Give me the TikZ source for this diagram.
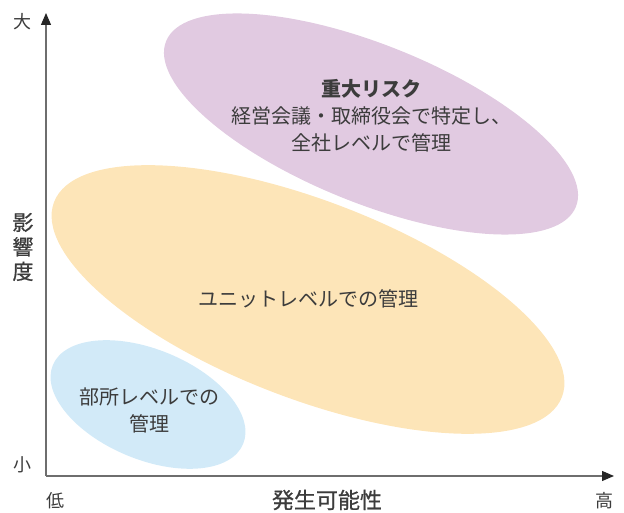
\documentclass[tikz,border=0pt]{standalone}
\usepackage{fontspec}
\setmainfont{Noto Sans CJK JP}
\newfontfamily\jpmed[FakeBold=0.7]{Noto Sans CJK JP}
\usetikzlibrary{arrows.meta}
\definecolor{pur}{RGB}{225,202,225}
\definecolor{ora}{RGB}{253,229,184}
\definecolor{blu}{RGB}{210,234,248}
\definecolor{txt}{RGB}{60,60,60}
\definecolor{axc}{RGB}{110,110,110}
\tikzset{
  axisline/.style={draw=axc, line width=1.1pt, -{Triangle[length=12pt,width=10pt,color=black!85]}},
  lbl/.style={text=txt, align=center, inner sep=0pt, font=\fontsize{20}{27}\selectfont},
  axlbl/.style={text=txt, inner sep=0pt, font=\fontsize{18}{20}\selectfont},
}
\begin{document}
\begin{tikzpicture}[x=1pt,y=1pt]
\useasboundingbox (0,0) rectangle (624,513);
% ellipses
\fill[pur, rotate around={-22:(371,389)}] (371,389) ellipse (221 and 79);
\fill[ora, rotate around={-21:(308,213.5)}] (308,213.5) ellipse (272 and 99);
\fill[blu, rotate around={-22.5:(148,108.5)}] (148,108.5) ellipse (103 and 55);
% axes
\coordinate (o) at (46,37);
\coordinate (ytop) at (46,500);
\coordinate (xend) at (614,37);
\draw[axisline] (o) -- (ytop);
\draw[axisline] (o) -- (xend);
% texts
\node[lbl] (big) at (371,397) {{\bfseries 重大リスク}\\経営会議・取締役会で特定し、\\全社レベルで管理};
\node[lbl] (unit) at (308,214) {ユニットレベルでの管理};
\node[lbl] (dept) at (149,103) {部所レベルでの\\管理};
\node[axlbl] (yhi) at (22,491) {大};
\node[axlbl] (ylo) at (22,48) {小};
\node[text=txt, inner sep=0pt, align=center, font=\fontsize{21}{24.5}\selectfont\jpmed] (ylab) at (23,266) {影\\響\\度};
\node[axlbl] (xlo) at (55,12) {低};
\node[axlbl] (xhi) at (604,12) {高};
\node[text=txt, inner sep=0pt, font=\fontsize{22}{24}\selectfont\jpmed] (xlab) at (327,13) {発生可能性};
\end{tikzpicture}
\end{document}
